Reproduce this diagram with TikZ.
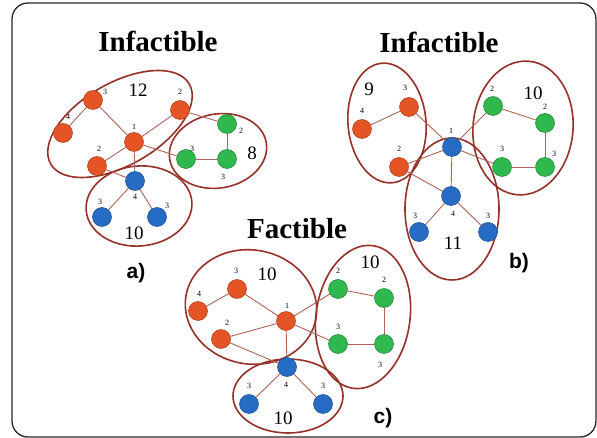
\documentclass[tikz,border=0pt]{standalone}
\usepackage{fontspec}
\setmainfont{Liberation Serif}
\newfontfamily\labsans{Liberation Sans}
\definecolor{ora}{RGB}{228,84,36}
\definecolor{grn}{RGB}{46,184,78}
\definecolor{blu}{RGB}{38,108,196}
\definecolor{ell}{RGB}{150,48,40}
\definecolor{edg}{RGB}{176,100,88}
\begin{document}
\begin{tikzpicture}[x=1pt,y=-1pt,
  vtx/.style={circle, minimum size=19pt, inner sep=0pt, line width=0.5pt},
  vo/.style={vtx, fill=ora, draw=ora!75!black},
  vg/.style={vtx, fill=grn, draw=grn!70!black},
  vb/.style={vtx, fill=blu, draw=blu!70!black},
  lab/.style={font=\fontsize{8}{9}\selectfont, inner sep=0pt},
  grp/.style={draw=ell, line width=1.6pt},
  cnt/.style={font=\fontsize{19}{21}\selectfont, inner sep=0pt},
  ttl/.style={font=\fontsize{29}{32}\selectfont\bfseries, inner sep=0pt},
  tag/.style={font=\labsans\bfseries\fontsize{21}{23}\selectfont, inner sep=0pt},
  lnk/.style={draw=edg, line width=0.9pt}]
\useasboundingbox (0,0) rectangle (597,438);
\draw[line width=1.3pt, rounded corners=16pt, draw=black!85] (12,3) rectangle (596,437);

% titles
\node[ttl] (t1) at (158,41) {Infactible};
\node[ttl] (t2) at (439,42) {Infactible};
\node[ttl] (t3) at (297,229) {Factible};

% ---------------- a) ----------------
\draw[grp, rotate around={30:(120,124)}] (120,124) ellipse (80 and 41);
\draw[grp, rotate around={10:(218,151)}] (218,151) ellipse (49 and 37);
\draw[grp, rotate around={5:(139,206)}] (139,206) ellipse (53 and 40);

\node[vo] (a3) at (93,100) {};
\node[vo] (a4) at (63,133) {};
\node[vo] (a2t) at (180,110) {};
\node[vo] (a1) at (134,142) {};
\node[vo] (a2b) at (97,166) {};
\node[vg] (ag2) at (227,124) {};
\node[vg] (ag3l) at (186,159) {};
\node[vg] (ag3r) at (227,159) {};
\node[vb] (ab4) at (135,181) {};
\node[vb] (ab3l) at (102,217) {};
\node[vb] (ab3r) at (157,217) {};

\draw[lnk] (a4) -- (a3);
\draw[lnk] (a3) -- (a1);
\draw[lnk] (a2t) -- (a1);
\draw[lnk] (a2b) -- (a1);
\draw[lnk] (a1) -- (ab4);
\draw[lnk] (a1) -- (ag3l);
\draw[lnk] (a2t) -- (ag2);
\draw[lnk] (a2b) -- (ab4);
\draw[lnk] (ab4) -- (ab3l);
\draw[lnk] (ab4) -- (ab3r);
\draw[lnk] (ag2) -- (ag3r);
\draw[lnk] (ag3l) -- (ag3r);

\node[lab] (la3) at (105,92) {3};
\node[lab] (la4) at (68,117) {4};
\node[lab] (la2t) at (180,92) {2};
\node[lab] (la1) at (134,127) {1};
\node[lab] (la2b) at (99,149) {2};
\node[lab] (lag2) at (241,131) {2};
\node[lab] (lag3l) at (192,149) {3};
\node[lab] (lag3r) at (223,177) {3};
\node[lab] (lab4) at (135,197) {4};
\node[lab] (lab3l) at (100,202) {3};
\node[lab] (lab3r) at (167,206) {3};

\node[cnt] (na1) at (138,90) {12};
\node[cnt] (na2) at (252,153) {8};
\node[cnt] (na3) at (134,233) {10};
\node[tag] (ta) at (136,273) {a)};

% ---------------- b) ----------------
\draw[grp, rotate around={5:(387,123)}] (387,123) ellipse (39 and 60);
\draw[grp, rotate around={-5:(523,128)}] (523,128) ellipse (50 and 67);
\draw[grp] (452,209) ellipse (47 and 71);

\node[vo] (b3) at (409,107) {};
\node[vo] (b4) at (362,129) {};
\node[vo] (b2) at (399,167) {};
\node[vb] (b1) at (452,147) {};
\node[vb] (bb4) at (451,196) {};
\node[vb] (bb3l) at (419,232) {};
\node[vb] (bb3r) at (488,232) {};
\node[vg] (bg2t) at (493,106) {};
\node[vg] (bg2r) at (545,123) {};
\node[vg] (bg3l) at (502,167) {};
\node[vg] (bg3r) at (545,167) {};

\draw[lnk] (b4) -- (b3);
\draw[lnk] (b3) -- (b1);
\draw[lnk] (b2) -- (b1);
\draw[lnk] (b2) -- (bb4);
\draw[lnk] (b1) -- (bb4);
\draw[lnk] (b1) -- (bg2t);
\draw[lnk] (b1) -- (bg3l);
\draw[lnk] (bg2t) -- (bg2r);
\draw[lnk] (bg2r) -- (bg3r);
\draw[lnk] (bg3l) -- (bg3r);
\draw[lnk] (bb4) -- (bb3l);
\draw[lnk] (bb4) -- (bb3r);

\node[lab] (lb3) at (405,88) {3};
\node[lab] (lb4) at (362,111) {4};
\node[lab] (lb2) at (399,149) {2};
\node[lab] (lb1) at (451,131) {1};
\node[lab] (lbb4) at (453,214) {4};
\node[lab] (lbb3l) at (415,216) {3};
\node[lab] (lbb3r) at (488,216) {3};
\node[lab] (lbg2t) at (492,89) {2};
\node[lab] (lbg2r) at (545,107) {2};
\node[lab] (lbg3l) at (502,149) {3};
\node[lab] (lbg3r) at (554,154) {3};

\node[cnt] (nb1) at (369,89) {9};
\node[cnt] (nb2) at (533,93) {10};
\node[cnt] (nb3) at (453,243) {11};
\node[tag] (tb) at (519,263) {b)};

% ---------------- c) ----------------
\draw[grp, rotate around={-10:(251,307)}] (251,307) ellipse (66 and 57);
\draw[grp, rotate around={-8:(363,317)}] (363,317) ellipse (47 and 72);
\draw[grp] (288,396) ellipse (55 and 37);

\node[vo] (c3) at (237,289) {};
\node[vo] (c4) at (198,311) {};
\node[vo] (c2) at (221,339) {};
\node[vo] (c1) at (286,321) {};
\node[vb] (cb4) at (287,367) {};
\node[vb] (cb3l) at (249,404) {};
\node[vb] (cb3r) at (323,404) {};
\node[vg] (cg2t) at (338,289) {};
\node[vg] (cg2r) at (384,298) {};
\node[vg] (cg3l) at (338,344) {};
\node[vg] (cg3r) at (384,344) {};

\draw[lnk] (c4) -- (c3);
\draw[lnk] (c3) -- (c1);
\draw[lnk] (c2) -- (c1);
\draw[lnk] (c1) -- (cb4);
\draw[lnk] (c1) -- (cg2t);
\draw[lnk] (c1) -- (cg3l);
\draw[lnk] (c2) -- (cb4);
\draw[lnk] (cg2t) -- (cg2r);
\draw[lnk] (cg2r) -- (cg3r);
\draw[lnk] (cg3l) -- (cg3r);
\draw[lnk] (cb4) -- (cb3l);
\draw[lnk] (cb4) -- (cb3r);

\node[lab] (lc3) at (236,271) {3};
\node[lab] (lc4) at (199,294) {4};
\node[lab] (lc2) at (227,323) {2};
\node[lab] (lc1) at (287,306) {1};
\node[lab] (lcb4) at (286,385) {4};
\node[lab] (lcb3l) at (249,386) {3};
\node[lab] (lcb3r) at (323,386) {3};
\node[lab] (lcg2t) at (338,271) {2};
\node[lab] (lcg2r) at (384,280) {2};
\node[lab] (lcg3l) at (338,327) {3};
\node[lab] (lcg3r) at (380,365) {3};

\node[cnt] (nc1) at (267,274) {10};
\node[cnt] (nc2) at (370,262) {10};
\node[cnt] (nc3) at (283,418) {10};
\node[tag] (tc) at (383,418) {c)};
\end{tikzpicture}
\end{document}
